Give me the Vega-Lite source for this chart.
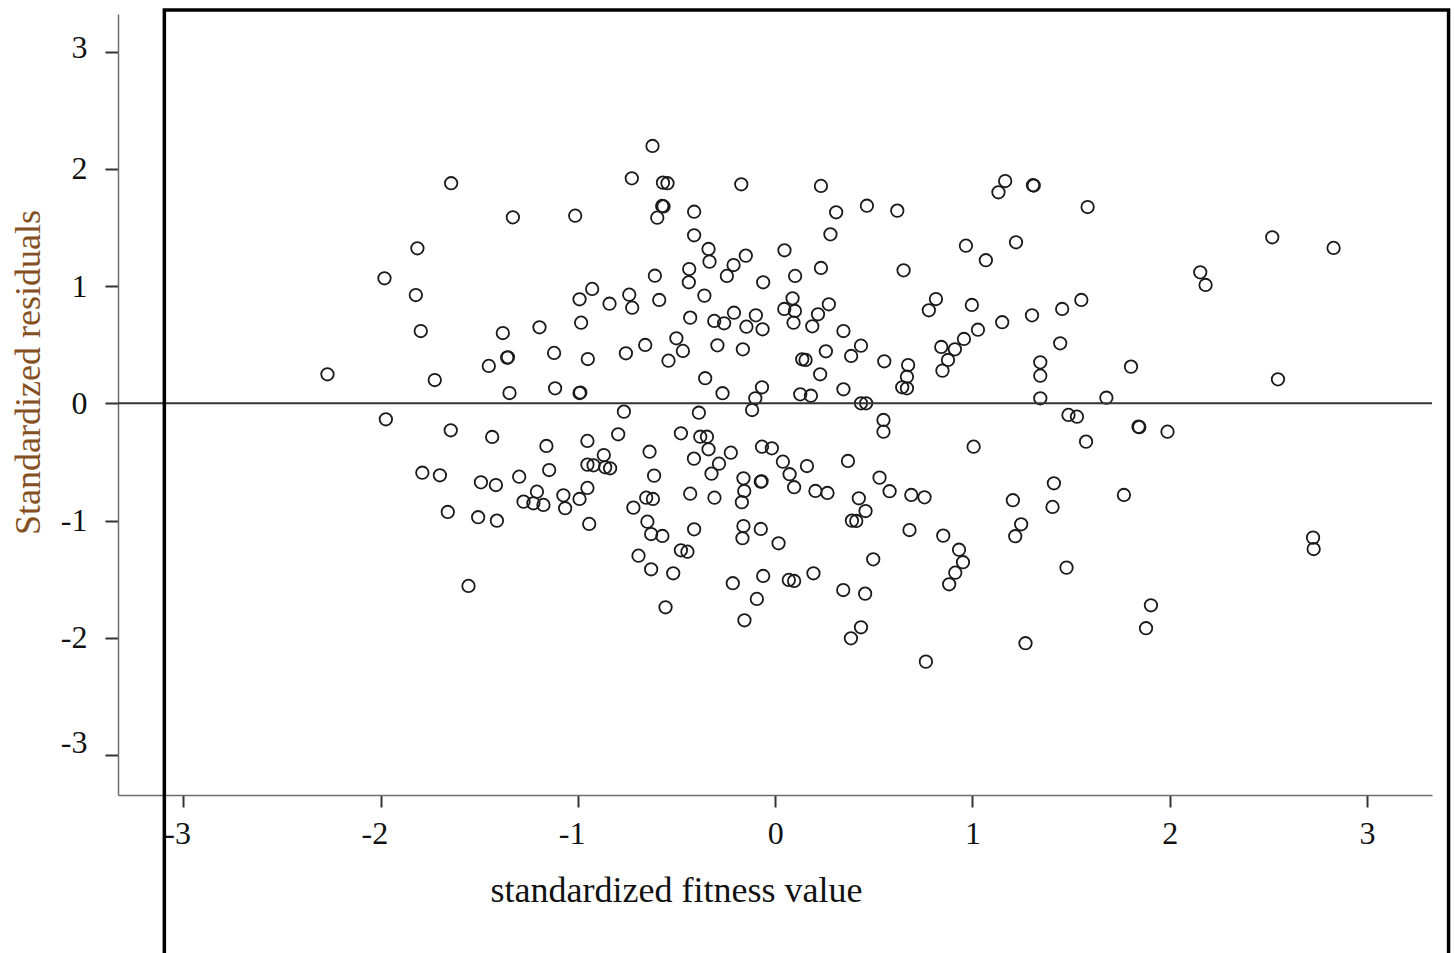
{
  "$schema": "https://vega.github.io/schema/vega-lite/v6.json",
  "width": 1314,
  "height": 781,
  "autosize": {"type": "none"},
  "padding": {"left": 118, "top": 14, "right": 22, "bottom": 158},
  "background": "white",
  "config": {
    "view": {"stroke": null},
    "font": "Liberation Serif",
    "axis": {"labelFont": "Liberation Serif", "titleFont": "Liberation Serif", "titleFontWeight": "normal"}
  },
  "datasets": {
    "residuals": [
      {"fitness": -1.643, "residual": 1.878}, {"fitness": -1.330, "residual": 1.587}, {"fitness": -1.014, "residual": 1.601},
      {"fitness": -1.814, "residual": 1.323}, {"fitness": -1.981, "residual": 1.067}, {"fitness": -1.822, "residual": 0.924},
      {"fitness": -0.928, "residual": 0.976}, {"fitness": -0.992, "residual": 0.888}, {"fitness": -0.984, "residual": 0.688},
      {"fitness": -1.195, "residual": 0.649}, {"fitness": -1.381, "residual": 0.600}, {"fitness": -1.797, "residual": 0.617},
      {"fitness": -1.121, "residual": 0.430}, {"fitness": -1.359, "residual": 0.390}, {"fitness": -1.355, "residual": 0.393},
      {"fitness": -0.950, "residual": 0.378}, {"fitness": -1.452, "residual": 0.319}, {"fitness": -2.270, "residual": 0.248},
      {"fitness": -1.726, "residual": 0.199}, {"fitness": -1.347, "residual": 0.088}, {"fitness": -1.116, "residual": 0.128},
      {"fitness": -0.992, "residual": 0.088}, {"fitness": -0.988, "residual": 0.092},

      {"fitness": -0.622, "residual": 2.196}, {"fitness": -0.727, "residual": 1.920}, {"fitness": -0.569, "residual": 1.883},
      {"fitness": -0.546, "residual": 1.878}, {"fitness": -0.172, "residual": 1.869}, {"fitness": 0.232, "residual": 1.855},
      {"fitness": -0.573, "residual": 1.684}, {"fitness": -0.566, "residual": 1.680}, {"fitness": -0.598, "residual": 1.584},
      {"fitness": -0.411, "residual": 1.635}, {"fitness": 0.309, "residual": 1.630}, {"fitness": 0.465, "residual": 1.686},
      {"fitness": 0.619, "residual": 1.644}, {"fitness": -0.411, "residual": 1.434}, {"fitness": 0.280, "residual": 1.442},
      {"fitness": -0.338, "residual": 1.317}, {"fitness": -0.333, "residual": 1.209}, {"fitness": -0.149, "residual": 1.260},
      {"fitness": -0.211, "residual": 1.180}, {"fitness": -0.245, "residual": 1.087}, {"fitness": 0.047, "residual": 1.306},
      {"fitness": 0.232, "residual": 1.155}, {"fitness": 0.101, "residual": 1.087}, {"fitness": -0.061, "residual": 1.033},
      {"fitness": -0.610, "residual": 1.089}, {"fitness": -0.436, "residual": 1.146}, {"fitness": -0.438, "residual": 1.033},
      {"fitness": -0.840, "residual": 0.850}, {"fitness": -0.740, "residual": 0.927}, {"fitness": -0.725, "residual": 0.816},
      {"fitness": -0.588, "residual": 0.882}, {"fitness": -0.359, "residual": 0.919}, {"fitness": 0.088, "residual": 0.896},
      {"fitness": 0.046, "residual": 0.805}, {"fitness": 0.100, "residual": 0.788}, {"fitness": 0.093, "residual": 0.688},
      {"fitness": 0.272, "residual": 0.845}, {"fitness": 0.217, "residual": 0.760}, {"fitness": 0.188, "residual": 0.657},
      {"fitness": -0.431, "residual": 0.731}, {"fitness": -0.209, "residual": 0.773}, {"fitness": -0.309, "residual": 0.703},
      {"fitness": -0.259, "residual": 0.683}, {"fitness": -0.098, "residual": 0.751}, {"fitness": -0.146, "residual": 0.654},
      {"fitness": -0.064, "residual": 0.632}, {"fitness": 0.346, "residual": 0.617}, {"fitness": -0.501, "residual": 0.555},
      {"fitness": -0.659, "residual": 0.498}, {"fitness": -0.757, "residual": 0.427}, {"fitness": -0.468, "residual": 0.447},
      {"fitness": -0.541, "residual": 0.364}, {"fitness": -0.293, "residual": 0.495}, {"fitness": -0.164, "residual": 0.461},
      {"fitness": 0.137, "residual": 0.376}, {"fitness": 0.154, "residual": 0.370}, {"fitness": 0.257, "residual": 0.444},
      {"fitness": 0.435, "residual": 0.492}, {"fitness": 0.385, "residual": 0.404}, {"fitness": 0.553, "residual": 0.359},
      {"fitness": 0.228, "residual": 0.248}, {"fitness": -0.355, "residual": 0.214}, {"fitness": -0.267, "residual": 0.086},
      {"fitness": -0.067, "residual": 0.137}, {"fitness": -0.101, "residual": 0.043}, {"fitness": 0.127, "residual": 0.077},
      {"fitness": 0.181, "residual": 0.065}, {"fitness": 0.346, "residual": 0.120}, {"fitness": 0.435, "residual": 0.000},
      {"fitness": 0.461, "residual": 0.000},

      {"fitness": 1.166, "residual": 1.897}, {"fitness": 1.132, "residual": 1.801}, {"fitness": 1.307, "residual": 1.861},
      {"fitness": 1.311, "residual": 1.858}, {"fitness": 1.584, "residual": 1.675}, {"fitness": 0.967, "residual": 1.345},
      {"fitness": 1.221, "residual": 1.374}, {"fitness": 1.068, "residual": 1.221}, {"fitness": 0.651, "residual": 1.135},
      {"fitness": 0.815, "residual": 0.890}, {"fitness": 0.779, "residual": 0.794}, {"fitness": 0.997, "residual": 0.839},
      {"fitness": 1.552, "residual": 0.882}, {"fitness": 1.455, "residual": 0.805}, {"fitness": 1.302, "residual": 0.751},
      {"fitness": 1.151, "residual": 0.692}, {"fitness": 1.028, "residual": 0.628}, {"fitness": 0.957, "residual": 0.549},
      {"fitness": 0.911, "residual": 0.461}, {"fitness": 0.842, "residual": 0.481}, {"fitness": 0.876, "residual": 0.370},
      {"fitness": 0.848, "residual": 0.279}, {"fitness": 1.445, "residual": 0.512}, {"fitness": 0.674, "residual": 0.327},
      {"fitness": 0.668, "residual": 0.227}, {"fitness": 0.644, "residual": 0.137}, {"fitness": 0.668, "residual": 0.128},
      {"fitness": 1.344, "residual": 0.350}, {"fitness": 1.344, "residual": 0.236}, {"fitness": 1.344, "residual": 0.043},
      {"fitness": 1.679, "residual": 0.048}, {"fitness": 1.804, "residual": 0.313},

      {"fitness": 2.520, "residual": 1.417}, {"fitness": 2.831, "residual": 1.326}, {"fitness": 2.155, "residual": 1.118},
      {"fitness": 2.182, "residual": 1.010}, {"fitness": 2.549, "residual": 0.205},

      {"fitness": -1.974, "residual": -0.136}, {"fitness": -1.645, "residual": -0.230}, {"fitness": -1.435, "residual": -0.287},
      {"fitness": -1.160, "residual": -0.364}, {"fitness": -0.952, "residual": -0.321}, {"fitness": -1.789, "residual": -0.592},
      {"fitness": -1.700, "residual": -0.614}, {"fitness": -1.492, "residual": -0.674}, {"fitness": -1.416, "residual": -0.697},
      {"fitness": -1.298, "residual": -0.626}, {"fitness": -1.146, "residual": -0.569}, {"fitness": -0.952, "residual": -0.523},
      {"fitness": -0.921, "residual": -0.529}, {"fitness": -1.208, "residual": -0.754}, {"fitness": -1.276, "residual": -0.839},
      {"fitness": -1.226, "residual": -0.853}, {"fitness": -1.175, "residual": -0.867}, {"fitness": -1.074, "residual": -0.785},
      {"fitness": -1.065, "residual": -0.895}, {"fitness": -0.992, "residual": -0.816}, {"fitness": -0.952, "residual": -0.722},
      {"fitness": -1.660, "residual": -0.927}, {"fitness": -1.506, "residual": -0.972}, {"fitness": -1.411, "residual": -1.001},
      {"fitness": -0.943, "residual": -1.029}, {"fitness": -1.555, "residual": -1.558},

      {"fitness": -0.767, "residual": -0.071}, {"fitness": -0.387, "residual": -0.080}, {"fitness": -0.117, "residual": -0.057},
      {"fitness": 0.549, "residual": -0.142}, {"fitness": 0.549, "residual": -0.242}, {"fitness": -0.796, "residual": -0.264},
      {"fitness": -0.478, "residual": -0.256}, {"fitness": -0.380, "residual": -0.285}, {"fitness": -0.346, "residual": -0.285},
      {"fitness": -0.338, "residual": -0.392}, {"fitness": -0.225, "residual": -0.421}, {"fitness": -0.412, "residual": -0.472},
      {"fitness": -0.285, "residual": -0.515}, {"fitness": -0.323, "residual": -0.600}, {"fitness": -0.067, "residual": -0.370},
      {"fitness": -0.017, "residual": -0.384}, {"fitness": 0.039, "residual": -0.498}, {"fitness": 0.073, "residual": -0.605},
      {"fitness": 0.096, "residual": -0.716}, {"fitness": 0.161, "residual": -0.535}, {"fitness": 0.369, "residual": -0.492},
      {"fitness": 0.529, "residual": -0.634}, {"fitness": 0.580, "residual": -0.750}, {"fitness": -0.161, "residual": -0.640},
      {"fitness": -0.073, "residual": -0.669}, {"fitness": -0.069, "residual": -0.665}, {"fitness": -0.157, "residual": -0.748},
      {"fitness": -0.169, "residual": -0.844}, {"fitness": 0.204, "residual": -0.748}, {"fitness": 0.265, "residual": -0.765},
      {"fitness": 0.424, "residual": -0.810}, {"fitness": 0.458, "residual": -0.919}, {"fitness": 0.389, "residual": -1.001},
      {"fitness": 0.411, "residual": -1.004}, {"fitness": -0.637, "residual": -0.413}, {"fitness": -0.869, "residual": -0.441},
      {"fitness": -0.862, "residual": -0.546}, {"fitness": -0.837, "residual": -0.554}, {"fitness": -0.614, "residual": -0.617},
      {"fitness": -0.654, "residual": -0.805}, {"fitness": -0.620, "residual": -0.816}, {"fitness": -0.719, "residual": -0.890},
      {"fitness": -0.431, "residual": -0.771}, {"fitness": -0.308, "residual": -0.805}, {"fitness": -0.648, "residual": -1.010},
      {"fitness": -0.629, "residual": -1.115}, {"fitness": -0.572, "residual": -1.132}, {"fitness": -0.411, "residual": -1.075},
      {"fitness": -0.161, "residual": -1.047}, {"fitness": -0.166, "residual": -1.151}, {"fitness": -0.073, "residual": -1.072},
      {"fitness": 0.017, "residual": -1.194}, {"fitness": -0.693, "residual": -1.300}, {"fitness": -0.629, "residual": -1.416},
      {"fitness": -0.517, "residual": -1.450}, {"fitness": -0.478, "residual": -1.254}, {"fitness": -0.445, "residual": -1.266},
      {"fitness": -0.215, "residual": -1.535}, {"fitness": -0.061, "residual": -1.473}, {"fitness": 0.069, "residual": -1.507},
      {"fitness": 0.096, "residual": -1.516}, {"fitness": 0.194, "residual": -1.450}, {"fitness": 0.497, "residual": -1.331},
      {"fitness": 0.345, "residual": -1.593}, {"fitness": 0.456, "residual": -1.624}, {"fitness": -0.093, "residual": -1.669},
      {"fitness": -0.556, "residual": -1.740}, {"fitness": -0.156, "residual": -1.851}, {"fitness": 0.435, "residual": -1.911},
      {"fitness": 0.384, "residual": -2.005},

      {"fitness": 1.487, "residual": -0.099}, {"fitness": 1.530, "residual": -0.114}, {"fitness": 1.842, "residual": -0.199},
      {"fitness": 1.846, "residual": -0.203}, {"fitness": 1.989, "residual": -0.242}, {"fitness": 1.576, "residual": -0.327},
      {"fitness": 1.006, "residual": -0.370}, {"fitness": 0.690, "residual": -0.782}, {"fitness": 0.757, "residual": -0.802},
      {"fitness": 1.205, "residual": -0.827}, {"fitness": 1.413, "residual": -0.682}, {"fitness": 1.406, "residual": -0.884},
      {"fitness": 1.768, "residual": -0.782}, {"fitness": 0.681, "residual": -1.081}, {"fitness": 0.852, "residual": -1.129},
      {"fitness": 0.932, "residual": -1.249}, {"fitness": 0.952, "residual": -1.356}, {"fitness": 0.913, "residual": -1.445},
      {"fitness": 0.882, "residual": -1.544}, {"fitness": 1.247, "residual": -1.032}, {"fitness": 1.217, "residual": -1.134},
      {"fitness": 1.477, "residual": -1.402}, {"fitness": 1.905, "residual": -1.723}, {"fitness": 1.880, "residual": -1.919},
      {"fitness": 1.269, "residual": -2.047}, {"fitness": 0.764, "residual": -2.204},

      {"fitness": 2.727, "residual": -1.146}, {"fitness": 2.730, "residual": -1.243}
    ]
  },
  "layer": [
    {
      "data": {"name": "residuals"},
      "mark": {"type": "point", "shape": "circle", "filled": false, "size": 155, "stroke": "#1a1a1a", "strokeWidth": 1.8, "opacity": 1},
      "encoding": {
        "x": {
          "field": "fitness",
          "type": "quantitative",
          "scale": {"domain": [-3.332, 3.330], "nice": false, "zero": false},
          "axis": {
            "title": "standardized fitness value",
            "values": [-3, -2, -1, 0, 1, 2, 3],
            "grid": false,
            "domainColor": "#6e6e6e",
            "domainWidth": 1.5,
            "tickColor": "#333333",
            "tickWidth": 2,
            "tickSize": 12,
            "encode": {"ticks": {"update": {"y": {"value": -13}}}},
            "labelFontSize": 32,
            "labelColor": "#111111",
            "labelPadding": 11,
            "labelBaseline": "top",
            "labelFlush": false,
            "labelOverlap": false,
            "labelExpr": "datum.value < 0 ? '-' + abs(datum.value) : '' + datum.value",
            "labelAlign": {"condition": {"test": "datum.value < 0", "value": "right"}, "value": "center"},
            "labelOffset": {"condition": {"test": "datum.value < 0", "value": 7}, "value": 0},
            "titleFontSize": 36,
            "titleColor": "#111111",
            "titleX": 558,
            "titleY": 106,
            "titleAlign": "center",
            "titleBaseline": "alphabetic"
          }
        },
        "y": {
          "field": "residual",
          "type": "quantitative",
          "scale": {"domain": [-3.342, 3.322], "nice": false, "zero": false},
          "axis": {
            "title": "Standardized residuals",
            "values": [-3, -2, -1, 0, 1, 2, 3],
            "grid": false,
            "domainColor": "#6e6e6e",
            "domainWidth": 1.5,
            "tickColor": "#333333",
            "tickWidth": 2,
            "tickSize": 13,
            "encode": {"ticks": {"update": {"x": {"value": 12}}}},
            "labelFontSize": 32,
            "labelColor": "#111111",
            "labelPadding": 18,
            "labelAlign": "right",
            "labelBaseline": "middle",
            "labelOverlap": false,
            "labelFlush": false,
            "labelExpr": "datum.value < 0 ? '-' + abs(datum.value) : '' + datum.value",
            "labelOffset": {"condition": [{"test": "datum.value == -3", "value": -12}, {"test": "datum.value == 3", "value": -4}], "value": 0},
            "titleFontSize": 36,
            "titleColor": "#84501f",
            "titleAngle": -90,
            "titleX": -79,
            "titleY": 358,
            "titleAlign": "center",
            "titleBaseline": "alphabetic"
          }
        }
      }
    },
    {
      "description": "Zero residual reference line",
      "data": {"values": [{"residual": 0}]},
      "mark": {"type": "rule", "color": "#333333", "strokeWidth": 2},
      "encoding": {
        "y": {"field": "residual", "type": "quantitative", "scale": {"domain": [-3.342, 3.322], "nice": false, "zero": false}}
      }
    },
    {
      "description": "Page border around the figure",
      "data": {"values": [{}]},
      "mark": {"type": "rect", "fill": null, "stroke": "#000000", "strokeWidth": 3.5, "clip": false},
      "encoding": {
        "x": {"datum": -3.097, "type": "quantitative", "scale": {"domain": [-3.332, 3.330], "nice": false, "zero": false}},
        "x2": {"datum": 3.414},
        "y": {"datum": 3.356, "type": "quantitative", "scale": {"domain": [-3.342, 3.322], "nice": false, "zero": false}},
        "y2": {"datum": -5.0}
      }
    }
  ]
}
